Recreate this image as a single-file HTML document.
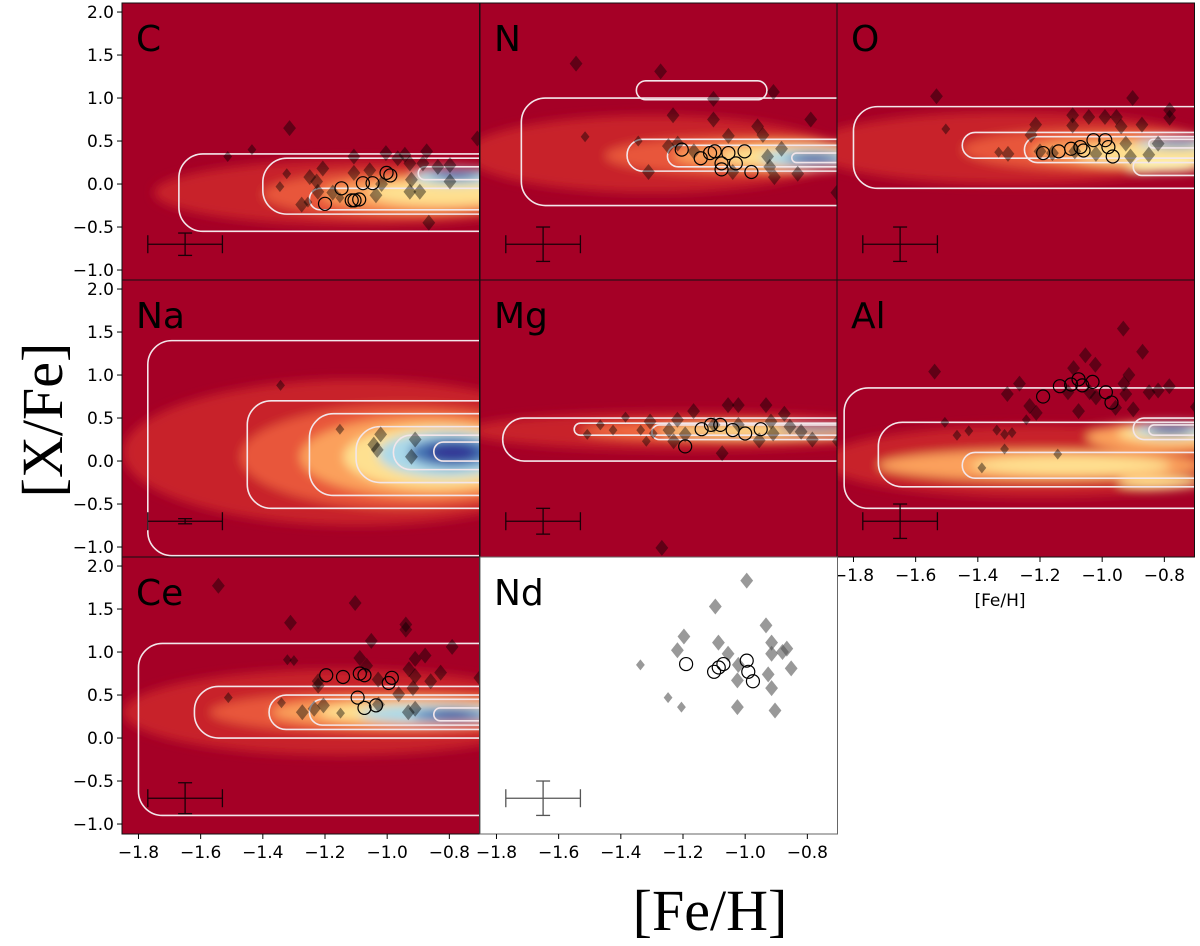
<!DOCTYPE html>
<html><head><meta charset="utf-8"><style>
html,body{margin:0;padding:0;background:#fff;}
svg{display:block;}
text{font-family:"DejaVu Sans","Liberation Sans",sans-serif;}
</style></head><body>
<svg id="chart" width="1200" height="946" viewBox="0 0 1200 946" xmlns="http://www.w3.org/2000/svg">
<defs>
<filter id="blur" x="-50%" y="-50%" width="200%" height="200%"><feGaussianBlur stdDeviation="5"/></filter>
</defs>
<g id="panels"></g>
<text x="0" y="0" transform="translate(62,420) rotate(-90)" text-anchor="middle" font-size="58" style="font-family:'Liberation Serif',serif">[X/Fe]</text>
<text x="710" y="930" text-anchor="middle" font-size="58" style="font-family:'Liberation Serif',serif">[Fe/H]</text>
<text x="1000" y="606" text-anchor="middle" font-size="17">[Fe/H]</text>
</svg>
<script>
// ---- data ----
const xTicks = [-1.8,-1.6,-1.4,-1.2,-1.0,-0.8];
const xTickLabels = ["−1.8","−1.6","−1.4","−1.2","−1.0","−0.8"];
const yTicks = [2.0,1.5,1.0,0.5,0.0,-0.5,-1.0];
const yTickLabels = ["2.0","1.5","1.0","0.5","0.0","−0.5","−1.0"];
const elements = ["C","N","O","Na","Mg","Al","Ce","Nd"];
// diamonds: [feh, x_fe, big(1)/small(0)]
const diamondsC = [[-1.314,0.65,1],[-1.513,0.32,0],[-1.435,0.40,0],[-1.323,0.12,0],[-1.345,-0.03,0],[-1.249,0.08,1],[-1.207,0.18,1],[-1.227,0.03,1],[-1.223,-0.09,1],[-1.275,-0.24,1],[-1.255,-0.21,0],[-1.175,-0.10,1],[-1.152,-0.16,0],[-1.107,0.32,1],[-1.107,0.13,1],[-1.056,0.16,1],[-1.036,-0.13,1],[-1.018,0.0,1],[-1.004,0.36,1],[-0.966,0.30,1],[-0.943,0.34,1],[-0.927,0.24,1],[-0.922,0.05,1],[-0.927,-0.09,1],[-0.895,-0.09,1],[-0.885,0.24,1],[-0.873,0.38,1],[-0.837,0.20,1],[-0.798,0.22,1],[-0.798,0.03,1],[-0.866,-0.45,1],[-0.71,0.53,1]];
const circlesC = [[-1.20,-0.23],[-1.147,-0.05],[-1.114,-0.19],[-1.09,-0.18],[-1.078,0.01],[-1.047,0.01],[-1.002,0.13],[-0.99,0.10],[-1.105,-0.19]];
const diamondsN = [[-1.544,1.40,1],[-1.272,1.31,1],[-0.909,1.07,1],[-1.102,0.99,1],[-1.232,0.80,1],[-1.102,0.75,1],[-0.789,0.75,1],[-1.515,0.55,0],[-1.344,0.50,0],[-0.96,0.67,1],[-0.943,0.57,1],[-1.054,0.56,1],[-1.247,0.44,1],[-1.217,0.47,1],[-1.311,0.14,1],[-0.928,0.32,1],[-0.921,0.20,1],[-0.883,0.41,1],[-0.831,0.12,1],[-0.906,0.08,1],[-1.04,0.14,1],[-1.165,0.38,1],[-0.705,-0.10,1]];
const circlesN = [[-1.204,0.40],[-1.143,0.30],[-1.098,0.38],[-1.054,0.36],[-1.002,0.38],[-1.076,0.24],[-0.98,0.14],[-1.076,0.17],[-1.03,0.24],[-1.113,0.36]];
const diamondsO = [[-1.533,1.02,1],[-1.503,0.64,0],[-0.902,1.0,1],[-0.783,0.86,1],[-0.783,0.77,1],[-1.095,0.80,1],[-1.043,0.78,1],[-0.991,0.78,1],[-0.954,0.78,1],[-1.214,0.69,1],[-1.229,0.57,1],[-1.095,0.68,1],[-0.939,0.67,1],[-0.872,0.69,1],[-1.303,0.35,1],[-1.333,0.37,0],[-1.2,0.38,1],[-1.088,0.38,1],[-1.02,0.35,1],[-0.924,0.47,1],[-0.909,0.32,1],[-0.85,0.34,1],[-0.82,0.47,1],[-1.16,0.36,1]];
const circlesO = [[-1.19,0.36],[-1.14,0.38],[-1.10,0.41],[-1.07,0.43],[-1.028,0.51],[-0.99,0.51],[-0.98,0.43],[-0.966,0.32],[-1.06,0.39]];
const diamondsNa = [[-1.343,0.88,0],[-1.152,0.37,0],[-1.021,0.31,1],[-1.043,0.19,1],[-1.032,0.13,1],[-0.91,0.25,1],[-0.922,0.05,1]];
const circlesNa = [];
const diamondsMg = [[-1.166,0.58,1],[-1.055,0.65,1],[-1.022,0.65,1],[-0.933,0.65,1],[-0.874,0.55,1],[-1.385,0.51,0],[-1.466,0.42,0],[-1.508,0.31,0],[-1.425,0.36,0],[-1.336,0.36,0],[-1.306,0.46,1],[-1.296,0.32,0],[-1.318,0.23,0],[-1.218,0.48,1],[-1.245,0.36,1],[-1.193,0.31,1],[-1.23,0.23,1],[-1.074,0.09,1],[-1.022,0.42,1],[-0.955,0.24,1],[-0.917,0.46,1],[-0.91,0.32,1],[-0.856,0.40,1],[-0.82,0.34,1],[-0.784,0.25,1],[-0.70,0.23,1],[-1.268,-1.01,1],[-1.10,0.42,1]];
const circlesMg = [[-1.193,0.17],[-1.14,0.37],[-1.08,0.42],[-1.04,0.36],[-1.0,0.32],[-0.95,0.37],[-1.11,0.42]];
const diamondsAl = [[-0.932,1.54,1],[-0.87,1.27,1],[-1.539,1.04,1],[-1.054,1.23,1],[-1.022,1.12,1],[-1.092,1.08,1],[-0.914,1.0,1],[-1.266,0.90,1],[-1.305,0.78,1],[-1.233,0.64,1],[-1.212,0.56,1],[-1.244,0.48,0],[-1.506,0.45,0],[-1.429,0.35,0],[-1.467,0.30,0],[-1.339,0.36,0],[-1.314,0.31,0],[-1.29,0.33,0],[-1.314,0.14,0],[-1.387,-0.08,0],[-1.143,0.08,0],[-1.076,0.58,1],[-1.04,0.80,1],[-1.02,0.74,1],[-0.957,0.62,1],[-0.924,0.78,1],[-0.9,0.60,1],[-0.849,0.80,1],[-0.784,0.87,1],[-0.82,0.82,1],[-0.697,0.63,1],[-1.11,0.80,1],[-0.93,0.90,1]];
const circlesAl = [[-1.19,0.75],[-1.136,0.87],[-1.10,0.89],[-1.076,0.95],[-1.064,0.88],[-1.031,0.92],[-0.988,0.80],[-0.97,0.68]];
const diamondsCe = [[-1.543,1.77,1],[-1.103,1.57,1],[-1.311,1.34,1],[-0.94,1.32,1],[-0.94,1.26,1],[-1.051,1.13,1],[-0.791,1.06,1],[-1.321,0.91,0],[-1.30,0.90,0],[-1.088,0.93,1],[-1.066,0.84,1],[-0.91,0.92,1],[-0.878,0.96,1],[-0.93,0.80,1],[-0.91,0.72,1],[-1.029,0.68,1],[-0.828,0.76,1],[-0.86,0.66,1],[-1.222,0.66,1],[-1.222,0.61,1],[-0.917,0.58,1],[-0.963,0.51,1],[-1.511,0.47,0],[-1.34,0.41,0],[-1.273,0.30,1],[-1.235,0.34,1],[-1.205,0.38,1],[-1.15,0.29,0],[-1.028,0.39,1],[-0.932,0.30,1],[-0.91,0.34,1],[-0.702,0.70,1]];
const circlesCe = [[-1.196,0.73],[-1.142,0.71],[-1.088,0.75],[-1.073,0.73],[-0.995,0.64],[-0.985,0.70],[-1.095,0.47],[-1.073,0.35],[-1.036,0.38]];
const diamondsNd = [[-0.995,1.83,1],[-1.096,1.53,1],[-0.933,1.31,1],[-1.197,1.18,1],[-1.086,1.11,1],[-0.915,1.11,1],[-1.218,1.02,1],[-1.055,0.98,1],[-0.915,0.98,1],[-0.866,1.04,1],[-0.88,1.0,1],[-1.337,0.85,0],[-1.022,0.85,1],[-0.852,0.81,1],[-0.926,0.74,1],[-1.025,0.67,1],[-0.915,0.58,1],[-1.248,0.47,0],[-1.205,0.36,0],[-1.025,0.36,1],[-0.904,0.32,1]];
const circlesNd = [[-1.19,0.86],[-1.10,0.77],[-1.085,0.82],[-1.07,0.86],[-0.995,0.90],[-0.99,0.77],[-0.975,0.66]];
const errY = [0.13,0.2,0.2,0.03,0.15,0.2,0.18,0.2];
const errX = 0.12;

// ---- density model (visual backdrop) ----
const blobs = {
 C:[[-1.1,-0.1,0.65,0.38,"#c8242a"],[-0.95,-0.12,0.45,0.27,"#e8563a"],[-0.88,-0.12,0.33,0.2,"#fba05c"],[-0.82,-0.1,0.24,0.15,"#fee090"],[-0.78,0.08,0.14,0.09,"#abd9e9"],[-0.78,0.1,0.08,0.05,"#4575b4"],[-0.78,0.1,0.04,0.03,"#313695"]],
 N:[[-1.3,0.35,0.6,0.45,"#c8242a"],[-1.0,0.33,0.45,0.22,"#e8563a"],[-0.9,0.33,0.33,0.16,"#fba05c"],[-0.85,0.32,0.23,0.13,"#fee090"],[-0.8,0.3,0.15,0.1,"#abd9e9"],[-0.78,0.3,0.09,0.06,"#4575b4"],[-0.78,0.3,0.05,0.03,"#313695"]],
 O:[[-1.3,0.42,0.65,0.42,"#c8242a"],[-1.0,0.4,0.45,0.24,"#e8563a"],[-0.9,0.38,0.33,0.17,"#fba05c"],[-0.85,0.35,0.24,0.13,"#fee090"],[-0.8,0.2,0.12,0.06,"#ffffbf"],[-0.76,0.47,0.13,0.06,"#abd9e9"],[-0.76,0.47,0.07,0.035,"#4575b4"]],
 Na:[[-1.1,0.1,0.75,0.85,"#c8242a"],[-0.95,0.05,0.52,0.6,"#e8563a"],[-0.88,0.05,0.4,0.47,"#fba05c"],[-0.84,0.05,0.3,0.37,"#fee090"],[-0.81,0.08,0.22,0.27,"#abd9e9"],[-0.79,0.1,0.14,0.17,"#4575b4"],[-0.79,0.1,0.08,0.1,"#313695"]],
 Mg:[[-1.2,0.35,0.7,0.22,"#c8242a"],[-1.05,0.35,0.48,0.11,"#f46d43"],[-0.95,0.35,0.33,0.07,"#fee090"],[-0.78,0.38,0.12,0.035,"#4575b4"]],
 Al:[[-1.2,0.0,0.7,0.42,"#c8242a"],[-1.2,-0.05,0.52,0.18,"#fba05c"],[-1.1,-0.05,0.32,0.11,"#fee090"],[-0.8,0.28,0.25,0.18,"#fba05c"],[-0.78,0.32,0.17,0.11,"#fee090"],[-0.82,-0.25,0.13,0.07,"#fee090"],[-0.78,0.36,0.12,0.08,"#abd9e9"],[-0.78,0.36,0.07,0.045,"#313695"]],
 Ce:[[-1.15,0.3,0.7,0.5,"#c8242a"],[-1.0,0.3,0.57,0.24,"#e8563a"],[-0.95,0.3,0.42,0.17,"#fba05c"],[-0.9,0.3,0.32,0.13,"#fee090"],[-0.85,0.28,0.24,0.11,"#abd9e9"],[-0.8,0.27,0.12,0.07,"#4575b4"],[-0.79,0.27,0.06,0.04,"#313695"]],
 Nd:[]
};
const contours = {
 C:[[-1.67,-0.5,-0.55,0.35],[-1.4,-0.5,-0.35,0.3],[-1.25,-0.5,-0.3,-0.05],[-0.9,-0.5,0.05,0.2]],
 N:[[-1.72,-0.5,-0.25,1.0],[-1.35,-0.93,0.98,1.2],[-1.38,-0.5,0.15,0.52],[-1.25,-0.5,0.2,0.45],[-0.85,-0.5,0.25,0.36]],
 O:[[-1.8,-0.5,-0.05,0.9],[-1.45,-0.5,0.3,0.6],[-1.25,-0.5,0.25,0.55],[-0.9,-0.5,0.1,0.3],[-0.85,-0.5,0.42,0.52]],
 Na:[[-1.77,-0.5,-1.1,1.4],[-1.45,-0.5,-0.55,0.7],[-1.25,-0.5,-0.4,0.55],[-1.1,-0.5,-0.25,0.4],[-0.98,-0.5,-0.1,0.3],[-0.85,-0.5,0.0,0.22]],
 Mg:[[-1.78,-0.5,0.0,0.5],[-1.55,-0.5,0.3,0.44],[-1.3,-0.5,0.25,0.42]],
 Al:[[-1.83,-0.5,-0.55,0.85],[-1.72,-0.5,-0.3,0.45],[-1.45,-0.5,-0.2,0.1],[-0.9,-0.5,0.25,0.5],[-0.85,-0.5,0.3,0.42]],
 Ce:[[-1.8,-0.5,-0.9,1.1],[-1.62,-0.5,0.0,0.6],[-1.38,-0.5,0.1,0.5],[-1.25,-0.5,0.15,0.45],[-0.85,-0.6,0.2,0.35]],
 Nd:[]
};
const diamondSets=[diamondsC,diamondsN,diamondsO,diamondsNa,diamondsMg,diamondsAl,diamondsCe,diamondsNd];
const circleSets=[circlesC,circlesN,circlesO,circlesNa,circlesMg,circlesAl,circlesCe,circlesNd];

// ---- layout ----
const colL=[122,480,837], colW=357.5;
const rowT=[3,280,557], rowH=277;
const xMin=-1.853, xMax=-0.703, yTop=2.105, yBot=-1.116;
const NS="http://www.w3.org/2000/svg";
function mk(tag,attrs,parent){const e=document.createElementNS(NS,tag);for(const k in attrs)e.setAttribute(k,attrs[k]);if(parent)parent.appendChild(e);return e;}
const root=document.getElementById('panels');

elements.forEach((el,i)=>{
  const r=Math.floor(i/3), c=i%3;
  const L=colL[c], T=rowT[r];
  const sx=v=>L+(v-xMin)/(xMax-xMin)*colW;
  const sy=v=>T+(yTop-v)/(yTop-yBot)*rowH;
  const g=mk('g',{},root);
  
  
  const cp=mk('clipPath',{id:'clip'+i},g);
  mk('rect',{x:L,y:T,width:colW,height:rowH},cp);
  const isNd = el==="Nd";
  const bg=mk('rect',{x:L,y:T,width:colW,height:rowH,fill:isNd?'#fff':'#a50026'},g);
  
  
  const cg=mk('g',{'clip-path':'url(#clip'+i+')'},g);
  const dg=mk('g',{filter:'url(#blur)'},cg);
  
  
  blobs[el].forEach(b=>{
    mk('ellipse',{cx:sx(b[0]),cy:sy(b[1]),rx:b[2]*colW/(xMax-xMin),ry:b[3]*rowH/(yTop-yBot),fill:b[4]},dg);
  });
  contours[el].forEach(k=>{
    const x1=sx(k[0]),x2=sx(k[1]),y1=sy(k[3]),y2=sy(k[2]);
    const h=y2-y1;
    const rr=Math.min(24,h/2);
    const ct=mk('rect',{x:x1,y:y1,width:x2-x1,height:h,rx:rr,ry:rr,fill:'none',stroke:'#f3e6ea','stroke-width':1.6},cg);
    
    
  });
  diamondSets[i].forEach(d=>{
    const s=d[2]?8:5.5, x=sx(d[0]), y=sy(d[1]);
    const p=mk('polygon',{points:`${x},${y-s} ${x+s*0.8},${y} ${x},${y+s} ${x-s*0.8},${y}`,fill:isNd?'#555':'#000','fill-opacity':isNd?0.6:0.42},cg);
    
    
  });
  circleSets[i].forEach(d=>{
    const ci=mk('circle',{cx:sx(d[0]),cy:sy(d[1]),r:6.5,fill:'none',stroke:'#000','stroke-width':1.2},cg);
    
    
  });
  const eb=mk('g',{stroke:isNd?'#555':'#1a0008','stroke-width':1.3},cg);
  
  
  const ex=sx(-1.65), ey=sy(-0.7);
  mk('line',{x1:sx(-1.65-errX),x2:sx(-1.65+errX),y1:ey,y2:ey},eb);
  mk('line',{x1:sx(-1.65-errX),x2:sx(-1.65-errX),y1:ey-9,y2:ey+9},eb);
  mk('line',{x1:sx(-1.65+errX),x2:sx(-1.65+errX),y1:ey-9,y2:ey+9},eb);
  mk('line',{x1:ex,x2:ex,y1:sy(-0.7+errY[i]),y2:sy(-0.7-errY[i])},eb);
  mk('line',{x1:ex-7,x2:ex+7,y1:sy(-0.7+errY[i]),y2:sy(-0.7+errY[i])},eb);
  mk('line',{x1:ex-7,x2:ex+7,y1:sy(-0.7-errY[i]),y2:sy(-0.7-errY[i])},eb);
  const bd=mk('rect',{x:L,y:T,width:colW,height:rowH,fill:'none',stroke:isNd?'#666':'#111','stroke-width':1},g);
  
  
  const lab=mk('text',{x:L+14,y:T+48,'font-size':36,fill:'#000'},g);
  lab.textContent=el;
  
  
  if(c===0){
    yTicks.forEach((v,j)=>{
      mk('line',{x1:L-5,x2:L,y1:sy(v),y2:sy(v),stroke:'#000','stroke-width':1},g);
      const t=mk('text',{x:L-8,y:sy(v)+6,'text-anchor':'end','font-size':17},g);
      t.textContent=yTickLabels[j];
      
      
    });
  }
  if(r===2 || i===5){
    xTicks.forEach((v,j)=>{
      mk('line',{x1:sx(v),x2:sx(v),y1:T+rowH,y2:T+rowH+5,stroke:'#000','stroke-width':1},g);
      const t=mk('text',{x:sx(v),y:T+rowH+24,'text-anchor':'middle','font-size':17},g);
      t.textContent=xTickLabels[j];
      
      
    });
  }
});
</script>
</body></html>
